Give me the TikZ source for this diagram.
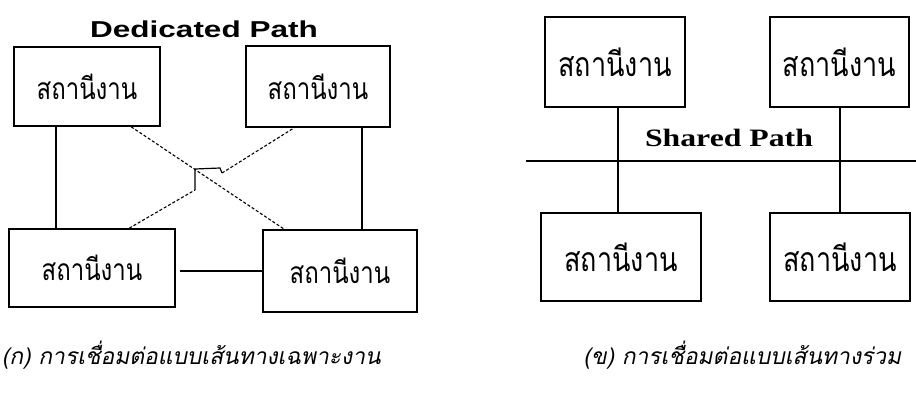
\documentclass[tikz,border=0pt]{standalone}
\usepackage{fontspec}
\usetikzlibrary{calc}
\newfontfamily\thaifont[Script=Thai]{Loma}
\newfontfamily\thaiit[Script=Thai,FakeSlant=0.2]{Loma}
\newfontfamily\titlefont{Liberation Sans}
\newfontfamily\serfont{Liberation Serif}
\newcommand\stxt{\scalebox{1}[1.25]{สถานีงาน}}
\begin{document}
\begin{tikzpicture}[x=1pt,y=-1pt,line width=1.6pt,
  stbox/.style={draw,rectangle,inner sep=0pt,font=\thaifont\fontsize{24}{28}\selectfont},
  stboxr/.style={stbox,font=\thaifont\fontsize{27}{30}\selectfont},
  dsh/.style={dash pattern=on 3pt off 2pt,line width=1.1pt},
  captext/.style={inner sep=0pt,font=\thaiit\fontsize{22.8}{26}\selectfont}]
\useasboundingbox[fill=white] (0,0) rectangle (916,392);
% left diagram
\node[font=\titlefont\bfseries\fontsize{23}{26}\selectfont,inner sep=0pt] (title) at (204,29) {\scalebox{1.37}[1]{Dedicated Path}};
\node[stbox,minimum width=146pt,minimum height=79pt] (A) at (87,86.5) {\stxt};
\node[stbox,minimum width=144pt,minimum height=81pt] (B) at (318,86.5) {\stxt};
\node[stbox,minimum width=166pt,minimum height=78pt] (C) at (92,268) {\stxt};
\node[stbox,minimum width=154pt,minimum height=82pt] (D) at (340,271) {\stxt};
\draw (A.south west) ++(43,0) coordinate (a1) -- (a1 |- C.north);
\draw (B.south west) ++(117,0) coordinate (b1) -- (b1 |- D.north);
\draw ([xshift=4pt]D.west -| C.east) coordinate (c1) -- (D.west);
\draw[dsh] (A.south west) ++(118,0) coordinate (a2) -- ($(D.north west)+(22,0)$);
\coordinate (b2) at ($(B.south west)+(49,0)$);
\coordinate (c2) at ($(C.north west)+(121,0)$);
\coordinate (h1) at (195,190);
\coordinate (h2) at (195,169);
\coordinate (h3) at (220,168);
\coordinate (h4) at (222,173);
\draw[dsh] (c2) -- (h1);
\draw[line width=1.2pt] (h1) -- (h2) -- (h3) -- (h4);
\draw[dsh] (h4) -- (b2);
\node[captext,anchor=west] (capA) at (1,355) {(ก) การเชื่อมต่อแบบเส้นทางเฉพาะงาน};
% right diagram
\node[stboxr,minimum width=140pt,minimum height=90pt] (E) at (615,62) {\stxt};
\node[stboxr,minimum width=139pt,minimum height=90pt] (F) at (839.5,62) {\stxt};
\node[stboxr,minimum width=160pt,minimum height=88pt] (G) at (621,257) {\stxt};
\node[stboxr,minimum width=140pt,minimum height=88pt] (H) at (840,257) {\stxt};
\coordinate (bl) at (526,161);
\coordinate (br) at (916,161);
\draw (bl) -- (br);
\draw (E.south) ++(3,0) coordinate (e1) -- (e1 |- G.north);
\draw (F.south) ++(0.5,0) coordinate (f1) -- (f1 |- H.north);
\node[font=\serfont\bfseries\fontsize{25}{28}\selectfont,inner sep=0pt] (sp) at (729,138) {\scalebox{1.27}[1]{Shared Path}};
\node[captext,anchor=east] (capB) at (902,355) {(ข) การเชื่อมต่อแบบเส้นทางร่วม};
\end{tikzpicture}
\end{document}
